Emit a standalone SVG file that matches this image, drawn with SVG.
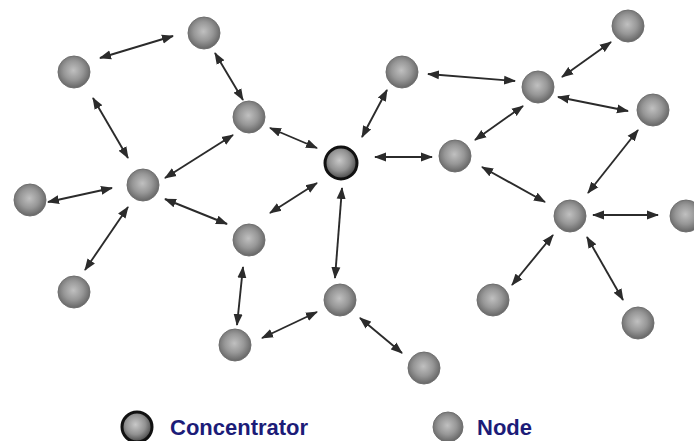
<svg xmlns="http://www.w3.org/2000/svg" width="694" height="441" viewBox="0 0 694 441">
<defs>
<radialGradient id="gNode" cx="48%" cy="45%" r="55%">
<stop offset="0" stop-color="#c0c0c0"/>
<stop offset="0.55" stop-color="#979797"/>
<stop offset="1" stop-color="#666"/>
</radialGradient>
<radialGradient id="gConc" cx="45%" cy="42%" r="55%">
<stop offset="0" stop-color="#c8c8c8"/>
<stop offset="0.6" stop-color="#929292"/>
<stop offset="1" stop-color="#505050"/>
</radialGradient>
<marker id="ah" markerUnits="userSpaceOnUse" markerWidth="12" markerHeight="10" refX="11" refY="5" orient="auto-start-reverse">
<path d="M0,0.5 L12,5 L0,9.5 z" fill="#2b2b2b"/>
</marker>
</defs>
<style>
.n{fill:url(#gNode);stroke:#6f6f6f;stroke-width:1}
.c{fill:url(#gConc);stroke:#111;stroke-width:3}
#edges line{stroke:#2b2b2b;stroke-width:1.9;marker-start:url(#ah);marker-end:url(#ah)}
.lbl{font-family:"Liberation Sans",Arial,sans-serif;font-weight:bold;font-size:22px;fill:#1c1c78}
</style>
<rect width="694" height="441" fill="#ffffff"/>
<g id="edges">
<line x1="100" y1="58" x2="173" y2="36"/>
<line x1="215" y1="53" x2="243" y2="100"/>
<line x1="93" y1="98" x2="128" y2="158"/>
<line x1="233" y1="135" x2="165" y2="178"/>
<line x1="270" y1="128" x2="317" y2="148"/>
<line x1="48" y1="202" x2="112" y2="188"/>
<line x1="165" y1="199" x2="227" y2="224"/>
<line x1="128" y1="207" x2="85" y2="270"/>
<line x1="270" y1="213" x2="317" y2="183"/>
<line x1="342" y1="188" x2="335" y2="278"/>
<line x1="243" y1="267" x2="237" y2="325"/>
<line x1="262" y1="338" x2="317" y2="312"/>
<line x1="360" y1="318" x2="402" y2="353"/>
<line x1="387" y1="90" x2="362" y2="137"/>
<line x1="428" y1="74" x2="515" y2="81"/>
<line x1="375" y1="157" x2="432" y2="157"/>
<line x1="475" y1="140" x2="523" y2="106"/>
<line x1="562" y1="77" x2="611" y2="42"/>
<line x1="558" y1="97" x2="628" y2="111"/>
<line x1="638" y1="130" x2="588" y2="193"/>
<line x1="482" y1="167" x2="545" y2="202"/>
<line x1="593" y1="215" x2="658" y2="215"/>
<line x1="553" y1="235" x2="512" y2="285"/>
<line x1="587" y1="237" x2="623" y2="300"/>
</g>
<g id="n1"><circle class="n" cx="74" cy="72" r="16"/></g>
<g id="n2"><circle class="n" cx="204" cy="33" r="16"/></g>
<g id="n3"><circle class="n" cx="249" cy="117" r="16"/></g>
<g id="n4"><circle class="n" cx="143" cy="185" r="16"/></g>
<g id="n5"><circle class="n" cx="30" cy="200" r="16"/></g>
<g id="n6"><circle class="n" cx="74" cy="292" r="16"/></g>
<g id="n7"><circle class="n" cx="249" cy="240" r="16"/></g>
<g id="concentrator"><circle class="c" cx="341" cy="163" r="16"/></g>
<g id="n9"><circle class="n" cx="340" cy="300" r="16"/></g>
<g id="n10"><circle class="n" cx="235" cy="345" r="16"/></g>
<g id="n11"><circle class="n" cx="424" cy="368" r="16"/></g>
<g id="n12"><circle class="n" cx="402" cy="72" r="16"/></g>
<g id="n13"><circle class="n" cx="455" cy="156" r="16"/></g>
<g id="n14"><circle class="n" cx="538" cy="87" r="16"/></g>
<g id="n15"><circle class="n" cx="628" cy="26" r="16"/></g>
<g id="n16"><circle class="n" cx="653" cy="110" r="16"/></g>
<g id="n17"><circle class="n" cx="570" cy="216" r="16"/></g>
<g id="n18"><circle class="n" cx="686" cy="216" r="16"/></g>
<g id="n19"><circle class="n" cx="493" cy="300" r="16"/></g>
<g id="n20"><circle class="n" cx="638" cy="323" r="16"/></g>
<g id="legend">
<circle class="c" cx="137" cy="427" r="15"/>
<text class="lbl" x="170" y="435">Concentrator</text>
<circle class="n" cx="448" cy="427" r="15"/>
<text class="lbl" x="477" y="435">Node</text>
</g>
</svg>
